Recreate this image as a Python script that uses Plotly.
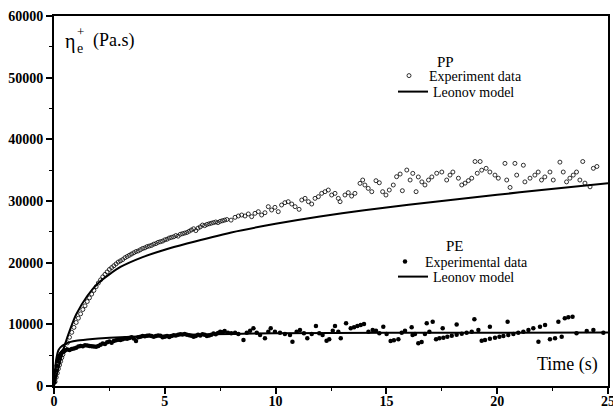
import plotly.graph_objects as go

FONT = "Liberation Serif, Times New Roman, Times, serif"

# ---------------- data ----------------
pp_model_t = [0, 0.1, 0.25, 0.5, 0.75, 1.0, 1.5, 2.0, 2.5, 3.0, 4.0, 5.0, 6.0, 8.0,
              10.0, 12.0, 14.0, 16.0, 18.0, 20.0, 22.0, 25.0]
pp_model_v = [0, 1500, 3600, 6800, 9400, 11600, 14600, 16700, 18100, 19300, 20900,
              22100, 23100, 24900, 26300, 27500, 28500, 29400, 30200, 31000, 31800, 32900]

pe_model_t = [0, 0.05, 0.1, 0.2, 0.3, 0.5, 0.75, 1.0, 1.5, 2.0, 3.0, 4.0, 5.0, 6.0,
              8.0, 10.0, 15.0, 20.0, 25.0]
pe_model_v = [0, 2600, 4300, 5800, 6300, 6800, 7150, 7350, 7550, 7700, 7900, 8050,
              8200, 8300, 8450, 8550, 8620, 8650, 8670]

pp_exp_t = [0.05, 0.1, 0.15, 0.2, 0.25, 0.3, 0.35, 0.4, 0.45, 0.5, 0.6, 0.7, 0.8, 0.9,
            1.0, 1.1, 1.2, 1.3, 1.4, 1.5, 1.6, 1.7, 1.8, 1.9, 2.0, 2.1, 2.2, 2.3, 2.4,
            2.5, 2.6, 2.7, 2.8, 2.9, 3.0, 3.1, 3.2, 3.3, 3.4, 3.5, 3.6, 3.7, 3.8, 3.9,
            4.0, 4.1, 4.2, 4.3, 4.4, 4.5, 4.6, 4.7, 4.8, 4.9, 5.0, 5.1, 5.2, 5.3, 5.4,
            5.5, 5.6, 5.7, 5.8, 5.9, 6.0, 6.1, 6.2, 6.3, 6.4, 6.5, 6.6, 6.7, 6.8, 6.9,
            7.0, 7.1, 7.2, 7.3, 7.4, 7.5, 7.6, 7.7, 7.8,
            7.99, 8.17, 8.32, 8.47, 8.62, 8.77, 8.92, 9.07, 9.22, 9.37, 9.52, 9.67,
            9.82, 9.97, 10.12, 10.27, 10.42, 10.57, 10.73, 10.88, 11.06, 11.18, 11.33,
            11.48, 11.63, 11.78, 11.93, 12.08, 12.23, 12.38, 12.53, 12.68, 12.83,
            12.91, 13.13, 13.28, 13.43, 13.58, 13.81, 13.93, 14.03, 14.18, 14.34,
            14.53, 14.68, 14.83, 14.98, 15.13, 15.31, 15.46, 15.62, 15.72, 15.92,
            16.07, 16.19, 16.34,
            16.44, 16.6, 16.74, 16.9, 17.05, 17.27, 17.5, 17.72, 17.87, 18.0, 18.25,
            18.4, 18.55, 18.7, 18.85, 19.0, 19.1, 19.23, 19.3, 19.5, 19.67, 19.9,
            20.05, 20.35, 20.43, 20.58, 20.8, 20.88, 21.18, 21.25, 21.48, 21.7, 21.85,
            22.0, 22.15, 22.38, 22.53, 22.83, 22.98, 23.13, 23.28, 23.43, 23.58,
            23.73, 23.86, 23.96, 24.19, 24.34, 24.5]
pp_exp_v = [700, 1400, 2100, 2800, 3400, 4000, 4600, 5100, 5600, 6100, 7000, 7900, 8700,
            9500, 10300, 11000, 11700, 12400, 13000, 13700, 14300, 14900, 15500, 16100,
            16700, 17200, 17700, 18100, 18500, 18900, 19200, 19500, 19800, 20100, 20300,
            20500, 20800, 21000, 21200, 21400, 21600, 21800, 21900, 22100, 22300, 22400,
            22600, 22700, 22800, 23000, 23100, 23300, 23400, 23500, 23700, 23800, 24000,
            24100, 24200, 24400, 24300, 24600, 24700, 24800, 24900, 25100, 25300, 25500,
            25200, 25600, 25800, 26100, 26000, 26200, 26300, 26400, 26500, 26600, 26500,
            26700, 26800, 26900, 27000,
            26900, 27350, 27570, 27730, 27570, 27900, 27460, 28000, 28270, 27730, 28100,
            29080, 28540, 28970, 28270, 29350, 29730, 29890, 29510, 29080, 28650, 30160,
            30430, 29890, 29510, 30430, 30700, 31240, 31510, 31780, 30970, 31240, 30430,
            29890, 30970, 31350, 30800, 31240, 32860, 33400, 32590, 32050, 31510, 33290,
            32960, 31510, 30970, 31780, 32590, 33940, 34370, 31670, 35020, 33400, 34480,
            31510,
            33900, 33100, 32600, 33400, 33900, 34500, 34700, 33400, 34200, 34700, 33700,
            32600, 32900, 33300, 33700, 36400, 34500, 36400, 35000, 35300, 34700, 34200,
            33700, 36100, 33400, 32200, 36100, 34200, 35800, 33100, 33700, 34200, 34700,
            33400, 33900, 34700, 33400, 36300, 34700, 33100, 33700, 34200, 34700, 33400,
            36400, 32900, 32300, 35300, 35600]

pe_exp_t = [0.02, 0.05, 0.08, 0.12, 0.16, 0.2, 0.25, 0.3, 0.35, 0.4, 0.45, 0.5, 0.6,
            0.7, 0.8, 0.9, 1.0, 1.1, 1.2, 1.3, 1.4, 1.5, 1.6, 1.7, 1.8, 1.9, 2.0, 2.1,
            2.2, 2.3, 2.4, 2.5, 2.6, 2.7, 2.8, 2.9, 3.0, 3.1, 3.2, 3.3, 3.4, 3.5, 3.6,
            3.7, 3.8, 3.9, 4.0, 4.1, 4.2, 4.3, 4.4, 4.5, 4.6, 4.7, 4.8, 4.9, 5.0, 5.1,
            5.2, 5.3, 5.4, 5.5, 5.6, 5.7, 5.8, 5.9, 6.0, 6.1, 6.2, 6.3, 6.4, 6.5, 6.6,
            6.7, 6.8, 6.9, 7.0, 7.1, 7.2, 7.3, 7.4, 7.5, 7.6, 7.7, 7.85,
            8.0, 8.17, 8.32, 8.55, 8.7, 8.85, 9.0, 9.15, 9.3, 9.52, 9.67, 9.78, 9.97,
            10.2, 10.42, 10.65, 10.76, 10.95, 11.1, 11.28, 11.43, 11.63, 11.82, 11.97,
            12.12, 12.3, 12.42, 12.58, 12.68, 12.83, 12.94, 13.18, 13.39, 13.54, 13.69,
            13.84, 13.99, 14.19, 14.38, 14.53, 14.68, 14.86, 15.01, 15.19, 15.34,
            15.54, 15.69, 15.84, 16.14, 16.18, 16.44,
            16.29, 16.59, 16.74, 16.82, 16.94, 17.09, 17.24, 17.39, 17.54, 17.57,
            17.75, 17.95, 18.17, 18.17, 18.4, 18.62, 18.85, 18.97, 19.15, 19.3, 19.45,
            19.67, 19.67, 19.9, 20.1, 20.28, 20.47, 20.5, 20.73, 20.95, 21.18, 21.41,
            21.63, 21.86, 21.93, 22.16, 22.38, 22.61, 22.76, 22.91, 23.05, 23.21, 23.4,
            23.58, 24.04, 24.34, 24.79]
pe_exp_v = [600, 1500, 2500, 3300, 4000, 4500, 4900, 5200, 5400, 5600, 5700, 5800, 5900,
            5850, 6000, 6100, 6200, 6400, 6500, 6450, 6600, 6550, 6500, 6450, 6400, 6350,
            6500, 6700, 6900, 6800, 7100, 7200, 7000, 7300, 7400, 7500, 7450, 7600, 7700,
            7650, 7800, 7900, 7700, 7300, 7900, 8000, 8100, 8050, 8150, 8200, 8100, 8000,
            8100, 8200, 8150, 7900, 8000, 8100, 7950, 8100, 8250, 8200, 8300, 8400, 8350,
            8450, 8300, 8250, 8150, 8000, 8100, 8300, 8200, 8400, 8300, 8100, 8200, 8300,
            8500, 8400, 8600, 8800, 8700, 8900, 8650,
            8540, 8650, 8430, 7460, 8650, 8970, 9350, 8650, 8270, 7730, 8810, 9350, 8810,
            8650, 8430, 8270, 7190, 8810, 9080, 8540, 7730, 8430, 9730, 8540, 8270, 7350,
            7570, 8970, 9730, 8810, 7730, 10160, 9350, 9510, 9730, 9890, 10050, 8810,
            9080, 8970, 8540, 9620, 8430, 7300, 7400, 7570, 8650, 8970, 9510, 8270, 6920,
            8430, 7140, 8430, 10160, 8810, 10430, 7570, 7730, 9350, 7840, 8000, 8160,
            9990, 8320, 8490, 8650, 8810, 10810, 9080, 7350, 7460, 9620, 7680, 7840,
            8000, 8110, 10430, 8270, 8430, 8650, 8810, 9080, 9350, 7190, 9620, 9890,
            7570, 7730, 10430, 8000, 10970, 11130, 11240, 8540, 8920, 9080, 8650]

x_ticks = [0, 5, 10, 15, 20, 25]
y_ticks = [0, 10000, 20000, 30000, 40000, 50000, 60000]

L, R, T, B = 54, 5, 16, 22
PW, PH = 613 - L - R, 408 - T - B


def px(xp):
    return (xp - L) / PW


def py(yp):
    return (408 - B - yp) / PH


# ---------------- figure ----------------
fig = go.Figure()

fig.add_trace(go.Scatter(
    x=pp_exp_t, y=pp_exp_v, mode="markers", name="Experiment data",
    marker=dict(symbol="circle-open", size=4, color="black", line=dict(width=0.8)),
    legend="legend", showlegend=True))
fig.add_trace(go.Scatter(
    x=pp_model_t, y=pp_model_v, mode="lines", name="Leonov model",
    line=dict(color="black", width=2, shape="spline", smoothing=0.6),
    legend="legend2", showlegend=True))
fig.add_trace(go.Scatter(
    x=pe_exp_t, y=pe_exp_v, mode="markers", name="Experimental data",
    marker=dict(symbol="circle", size=4.5, color="black"),
    legend="legend3", showlegend=True))
fig.add_trace(go.Scatter(
    x=pe_model_t, y=pe_model_v, mode="lines", name="Leonov model",
    line=dict(color="black", width=2, shape="spline", smoothing=0.6),
    legend="legend4", showlegend=True))

legend_common = dict(
    bgcolor="rgba(0,0,0,0)", borderwidth=0,
    font=dict(family=FONT, size=14, color="black"),
    xanchor="left", yanchor="middle", itemwidth=30,
)

fig.update_layout(
    width=613, height=408,
    margin=dict(l=L, r=R, t=T, b=B, autoexpand=False),
    paper_bgcolor="white", plot_bgcolor="white",
    showlegend=True,
    font=dict(family=FONT, size=14, color="black"),
    legend=dict(x=px(389), y=py(76), **legend_common),
    legend2=dict(x=px(393), y=py(92), **legend_common),
    legend3=dict(x=px(385), y=py(262), **legend_common),
    legend4=dict(x=px(393), y=py(277), **legend_common),
    xaxis=dict(range=[0, 25], tickvals=x_ticks, ticktext=[str(v) for v in x_ticks],
               ticks="outside", ticklen=6, tickwidth=1.5, tickcolor="black",
               minor=dict(dtick=2.5, ticks="outside", ticklen=3, tickwidth=1.2,
                          tickcolor="black"),
               showline=True, linecolor="black", linewidth=1.6, mirror=True,
               showgrid=False, zeroline=False, automargin=False,
               ticklabelstandoff=-5, ticklabeloverflow="allow",
               tickfont=dict(family=FONT, size=14, color="black", weight="bold")),
    yaxis=dict(range=[0, 60000], tickvals=y_ticks, ticktext=[str(v) for v in y_ticks],
               ticks="outside", ticklen=6, tickwidth=1.5, tickcolor="black",
               minor=dict(dtick=5000, ticks="outside", ticklen=3, tickwidth=1.2,
                          tickcolor="black"),
               showline=True, linecolor="black", linewidth=1.8, mirror=True,
               showgrid=False, zeroline=False, automargin=False,
               ticklabeloverflow="allow",
               tickfont=dict(family=FONT, size=14, color="black", weight="bold")),
)


def note(x, y, text, size, xanchor="center", weight="normal"):
    fig.add_annotation(x=px(x), y=py(y), text=text, xref="paper", yref="paper",
                       showarrow=False, xanchor=xanchor, yanchor="middle",
                       font=dict(family=FONT, size=size, color="black", weight=weight))


note(70, 42, "η", 20)
note(80, 31, "+", 13)
note(80, 49, "e", 14)
note(91, 41, "(Pa.s)", 18, xanchor="left")
note(600, 364, "Time (s)", 18, xanchor="right")
note(445, 62, "PP", 15)
note(455, 246, "PE", 15)

fig.write_html("out.html")
